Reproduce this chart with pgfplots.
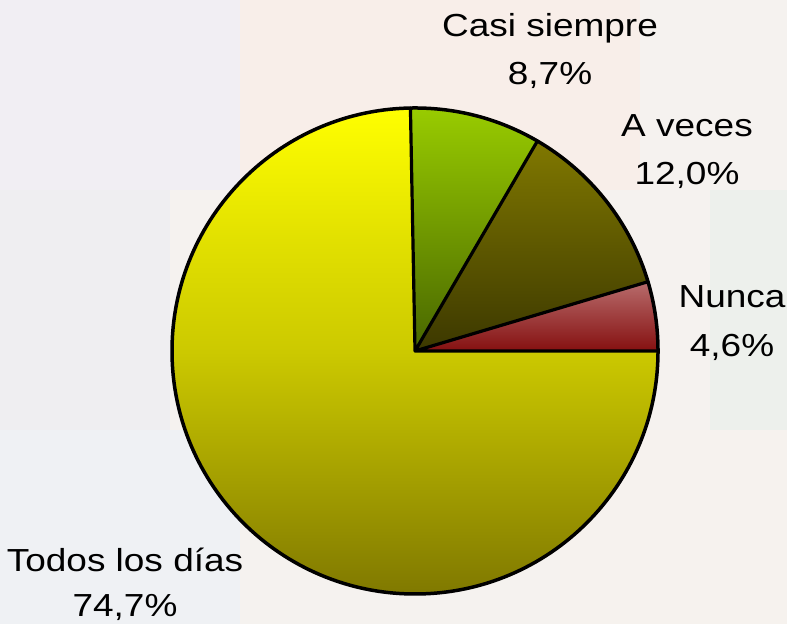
\documentclass[border=0pt]{standalone}
\usepackage{pgfplots}
\pgfplotsset{compat=1.18}
\usepackage{fontspec}
\setmainfont[FakeStretch=1.16]{Liberation Sans}
\definecolor{bgA}{HTML}{F1EEF3}
\definecolor{bgB}{HTML}{F8EEE9}
\definecolor{bgC}{HTML}{F5F2EF}
\definecolor{bgD}{HTML}{EFEEF1}
\definecolor{bgE}{HTML}{EDF0EC}
\definecolor{bgF}{HTML}{EFF1F4}
\definecolor{bgG}{HTML}{F6F2EE}
\definecolor{yelT}{HTML}{FFFF00}
\definecolor{yelB}{HTML}{7F7800}
\definecolor{grnT}{HTML}{99CC00}
\definecolor{grnB}{HTML}{486600}
\definecolor{oliT}{HTML}{807800}
\definecolor{oliB}{HTML}{3C3800}
\definecolor{redT}{HTML}{B86C6C}
\definecolor{redB}{HTML}{851010}
\pgfdeclareverticalshading{yelshade}{100bp}{color(0bp)=(yelB); color(25bp)=(yelB); color(50bp)=(yelB!40!yelT); color(62bp)=(yelB!22!yelT); color(75bp)=(yelT); color(100bp)=(yelT)}
\begin{document}
\begin{tikzpicture}[x=1bp,y=1bp]
% data (percent)
\def\vNunca{4.6}
\def\vAveces{12.0}
\def\vCasi{8.7}
\def\vTodos{74.7}
\pgfmathsetmacro\aA{0}
\pgfmathsetmacro\aB{\aA+3.6*\vNunca}
\pgfmathsetmacro\aC{\aB+3.6*\vAveces}
\pgfmathsetmacro\aD{\aC+3.6*\vCasi}
\pgfmathsetmacro\aE{\aD+3.6*\vTodos}
\path[use as bounding box] (0,0) rectangle (787,624);
% background
\fill[bgC] (0,0) rectangle (787,624);
\fill[bgA] (0,434) rectangle (240,624);
\fill[bgB] (240,434) rectangle (640,624);
\fill[bgC] (640,434) rectangle (787,624);
\fill[bgD] (0,194) rectangle (170,434);
\fill[bgE] (710,194) rectangle (787,434);
\fill[bgF] (0,0) rectangle (240,194);
\fill[bgG] (560,0) rectangle (787,194);
\begin{axis}[hide axis, scale only axis, width=486bp, height=486bp,
  xmin=-1, xmax=1, ymin=-1, ymax=1, clip=false,
  at={(415bp,273bp)}, anchor=center]
\path[top color=redT, bottom color=redB]
  (axis cs:0,0) -- (axis cs:{cos(\aA)},{sin(\aA)}) arc[start angle=\aA, end angle=\aB, radius=243bp] -- cycle;
\path[top color=oliT, bottom color=oliB]
  (axis cs:0,0) -- (axis cs:{cos(\aB)},{sin(\aB)}) arc[start angle=\aB, end angle=\aC, radius=243bp] -- cycle;
\path[top color=grnT, bottom color=grnB]
  (axis cs:0,0) -- (axis cs:{cos(\aC)},{sin(\aC)}) arc[start angle=\aC, end angle=\aD, radius=243bp] -- cycle;
\path[shading=yelshade]
  (axis cs:0,0) -- (axis cs:{cos(\aD)},{sin(\aD)}) arc[start angle=\aD, end angle=\aE, radius=243bp] -- cycle;
\draw[black, line width=3.5bp, line join=round]
  (axis cs:0,0) circle[radius=243bp];
\draw[black, line width=3.2bp, line cap=round]
  (axis cs:0,0) -- (axis cs:{cos(\aA)},{sin(\aA)})
  (axis cs:0,0) -- (axis cs:{cos(\aB)},{sin(\aB)})
  (axis cs:0,0) -- (axis cs:{cos(\aC)},{sin(\aC)})
  (axis cs:0,0) -- (axis cs:{cos(\aD)},{sin(\aD)});
\end{axis}
\begin{scope}[every node/.style={anchor=base, inner sep=0pt, font=\fontsize{32}{40}\selectfont}]
\node at (550,587) {Casi siempre};
\node at (550,539) {8,7\%};
\node at (687,487) {A veces};
\node at (687,439) {12,0\%};
\node at (732,316) {Nunca};
\node at (732,267) {4,6\%};
\node at (125,52) {Todos los días};
\node at (125,7) {74,7\%};
\end{scope}
\end{tikzpicture}
\end{document}
